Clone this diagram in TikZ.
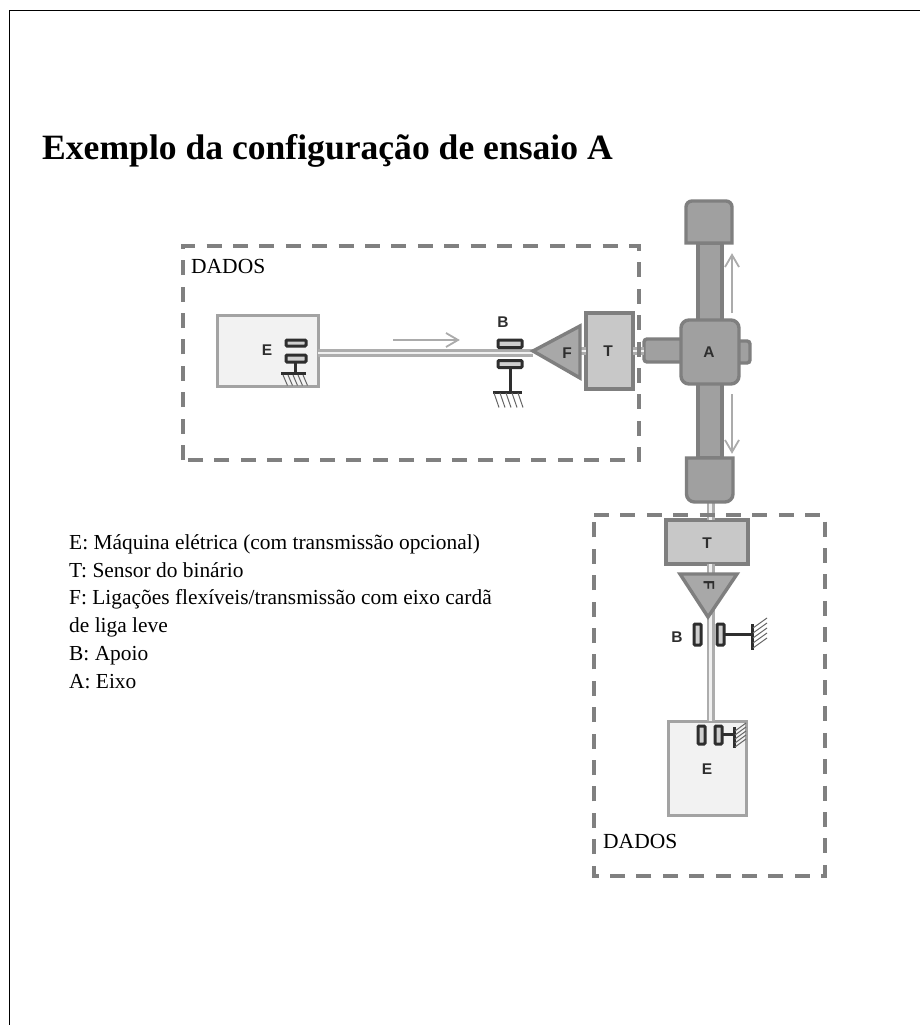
\documentclass[tikz,border=0pt]{standalone}
\usepackage{fontspec}
\setmainfont{Liberation Serif}
\newfontfamily\lblfont{Liberation Sans}
\tikzset{
  x=1pt,y=-1pt,
  frameline/.style={draw=black,line width=1pt},
  dadosbox/.style={draw=dashgray,line width=3.2pt,dash pattern=on 15pt off 11.4pt},
  dadostxt/.style={anchor=base west,inner sep=0pt,font=\fontsize{21.5}{21.5}\selectfont,text=black},
  legendtxt/.style={anchor=base west,inner sep=0pt,font=\fontsize{21.4}{21.4}\selectfont,text=black},
  parttxt/.style={inner sep=0pt,font=\lblfont\bfseries\fontsize{15.5}{15.5}\selectfont,text=partdark},
  ebox/.style={draw=egray,fill=efill,line width=3pt,inner sep=0pt,outer sep=0pt},
  tbox/.style={draw=midgray,fill=tfill,line width=3.4pt,inner sep=0pt,outer sep=0pt},
  axlepart/.style={draw=midgray,fill=axlefill,line width=3.4pt,inner sep=0pt,outer sep=0pt},
  flexpart/.style={draw=midgray,fill=flexfill,line width=3.4pt,line join=miter},
  bearing/.style={draw=partdark,fill=bearfill,line width=3pt,rounded corners=1pt},
  support/.style={draw=partdark,line width=3pt},
  hatch/.style={draw=hatchgray,line width=1pt},
  shaftouter/.style={draw=shaftgray,line width=8pt},
  shaftinner/.style={draw=shaftlight,line width=2.4pt},
  motion/.style={draw=arrowgray,line width=1.8pt}
}
\definecolor{dashgray}{HTML}{808080}
\definecolor{partdark}{HTML}{2E2E2E}
\definecolor{egray}{HTML}{A3A3A3}
\definecolor{efill}{HTML}{F2F2F2}
\definecolor{midgray}{HTML}{7F7F7F}
\definecolor{tfill}{HTML}{C8C8C8}
\definecolor{axlefill}{HTML}{A0A0A0}
\definecolor{flexfill}{HTML}{A8A8A8}
\definecolor{bearfill}{HTML}{CFCFCF}
\definecolor{hatchgray}{HTML}{666666}
\definecolor{shaftgray}{HTML}{ADADAD}
\definecolor{shaftlight}{HTML}{F0F0F0}
\definecolor{arrowgray}{HTML}{ABABAB}
\begin{document}
\begin{tikzpicture}
\useasboundingbox (0,0) rectangle (920,1025);
\fill[white] (0,0) rectangle (920,1025);
\draw[frameline] (9.5,1025) -- (9.5,10.5) -- (920,10.5);

\node[anchor=base west,inner sep=0pt,font=\bfseries\fontsize{35.6}{35.6}\selectfont] (title) at (42,159) {Exemplo da configuração de ensaio A};

\node[dadostxt] (d1) at (191,273) {DADOS};
\node[dadostxt] (d2) at (603,848) {DADOS};

\coordinate (tipF1) at (533,351);
\coordinate (topF1) at (580,326);
\coordinate (botF1) at (580,378);
\coordinate (topF2) at (680,574);
\coordinate (rgtF2) at (737,574);
\coordinate (tipF2) at (708,617);

\node[ebox,minimum width=101pt,minimum height=71pt] (E1) at (267.5,350.5) {};
\node[ebox,minimum width=78pt,minimum height=94pt] (E2) at (707,768) {};
\node[tbox,minimum width=47pt,minimum height=76pt] (T1) at (609.5,351) {};
\node[tbox,minimum width=82pt,minimum height=44pt] (T2) at (707,542) {};
\node[axlepart,rounded corners=3pt,minimum width=40pt,minimum height=23pt] (stubL) at (664,350.5) {};
\node[axlepart,rounded corners=3pt,minimum width=20pt,minimum height=22pt] (stubR) at (740,352) {};
\node[axlepart,minimum width=24pt,minimum height=215pt] (bar) at (710,350.5) {};

% shafts
\draw[shaftouter] (E1.east |- 0,353) -- (tipF1 |- 0,353);
\draw[shaftinner] (E1.east |- 0,353) -- (tipF1 |- 0,353);
\draw[shaftouter] (T1.east |- 0,351) -- (stubL.west |- 0,351);
\draw[shaftinner] (T1.east |- 0,351) -- (stubL.west |- 0,351);
\draw[shaftouter] (580,351) -- (T1.west |- 0,351);
\draw[shaftinner] (580,351) -- (T1.west |- 0,351);
\draw[shaftouter] (710.5,500) -- (T2.north -| 710.5,0);
\draw[shaftinner] (710.5,500) -- (T2.north -| 710.5,0);
\draw[shaftouter] (T2.south -| 710.5,0) -- (710.5,574);
\draw[shaftinner] (T2.south -| 710.5,0) -- (710.5,574);
\draw[shaftouter] (710.5,610) -- (E2.north -| 710.5,0);
\draw[shaftinner] (710.5,610) -- (E2.north -| 710.5,0);

% dashed boxes
\draw[dadosbox] (183,460) -- (183,246) -- (639,246) -- (639,460) -- cycle;
\draw[dadosbox] (594,515) -- (825,515) -- (825,876) -- (594,876) -- cycle;

% flexible couplings
\draw[flexpart] (tipF1) -- (topF1) -- (botF1) -- cycle;
\draw[flexpart] (topF2) -- (rgtF2) -- (tipF2) -- cycle;

% axle caps and centre
\node[axlepart,rounded corners=8pt,minimum width=58pt,minimum height=64pt] (A) at (710,352) {};
\draw[axlepart,fill=axlefill] (686,243) -- (686,207) arc[start angle=180,end angle=90,radius=6pt] -- (726,201) arc[start angle=90,end angle=0,radius=6pt] -- (732,243) -- cycle;
\draw[axlepart,fill=axlefill] (686.5,458) -- (733,458) -- (733,494) arc[start angle=0,end angle=-90,radius=8pt] -- (694.5,502) arc[start angle=-90,end angle=-180,radius=8pt] -- cycle;

% motion arrows
\draw[motion] (393,340) -- (458,340);
\draw[motion] (446,333) -- (458,340) -- (446,347);
\draw[motion] (732,313) -- (732,255);
\draw[motion] (725,267) -- (732,255) -- (739,267);
\draw[motion] (732,394) -- (732,452);
\draw[motion] (725,440) -- (732,452) -- (739,440);

% bearings, first DADOS set
\draw[bearing] (286,340) rectangle (306,346);
\draw[bearing] (286,355) rectangle (306,362);
\draw[support] (295.5,362) -- (295.5,373);
\draw[support] (281,373.5) -- (306,373.5);
\foreach \k in {0,1,2,3,4}{\draw[hatch] (283+5*\k,375) -- (287.5+5*\k,385.5);}

\draw[bearing] (498,340) rectangle (522,347.5);
\draw[bearing] (498,360.5) rectangle (522,367.5);
\draw[support] (510,367.5) -- (510,392);
\draw[support] (493,392.5) -- (522,392.5);
\foreach \k in {0,1,2,3,4}{\draw[hatch] (494+6*\k,393) -- (499+6*\k,407.5);}

% bearings, second DADOS set
\draw[bearing] (694,624) rectangle (701,645);
\draw[bearing] (717,624) rectangle (724,645);
\draw[support] (724,634) -- (752,634);
\draw[support] (752.5,624) -- (752.5,650);
\foreach \k in {0,1,2,3,4}{\draw[hatch] (753,628+5*\k) -- (767,618+5*\k);}

\draw[bearing] (698,726) rectangle (705,744);
\draw[bearing] (715,726) rectangle (722,744);
\draw[support] (722,734) -- (734,734);
\draw[support] (734.5,727) -- (734.5,748);
\foreach \k in {0,1,2,3,4}{\draw[hatch] (735,731+4*\k) -- (746,723+4*\k);}

% part letters
\node[parttxt] (lE1) at (267,350) {E};
\node[parttxt] (lB1) at (503,322) {B};
\node[parttxt] (lF1) at (567,353) {F};
\node[parttxt] (lT1) at (608,351) {T};
\node[parttxt] (lA) at (709,352) {A};
\node[parttxt] (lT2) at (707,543) {T};
\node[parttxt] (lB2) at (677,637) {B};
\node[parttxt] (lE2) at (707,769) {E};
\node[parttxt,rotate=-90] (lF2) at (709,585) {F};

% legend
\node[legendtxt] (l1) at (69,549) {E: Máquina elétrica (com transmissão opcional)};
\node[legendtxt] (l2) at (69,577) {T: Sensor do binário};
\node[legendtxt] (l3) at (69,604) {F: Ligações flexíveis/transmissão com eixo cardã};
\node[legendtxt] (l4) at (69,632) {de liga leve};
\node[legendtxt] (l5) at (69,660) {B: Apoio};
\node[legendtxt] (l6) at (69,688) {A: Eixo};
\end{tikzpicture}
\end{document}
